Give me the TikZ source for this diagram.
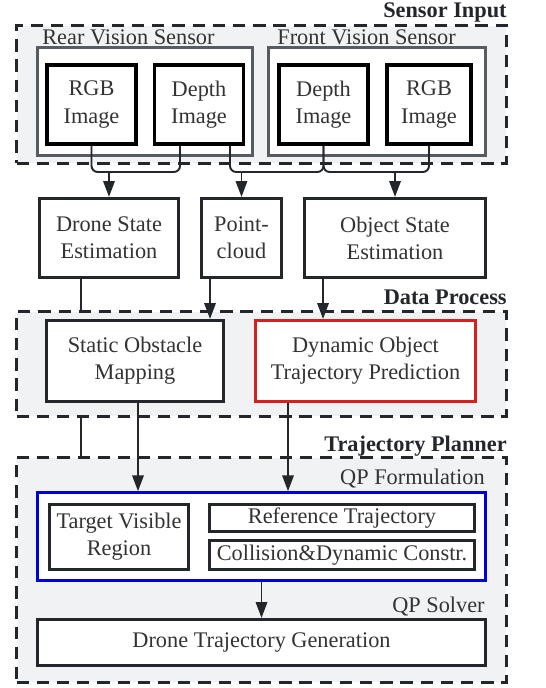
\documentclass[tikz,border=0pt]{standalone}
\usepackage{fontspec}
\setmainfont{Liberation Serif}
\usetikzlibrary{arrows.meta}

\definecolor{linedark}{HTML}{23262A}
\definecolor{sensgray}{HTML}{575C62}
\definecolor{groupfill}{HTML}{F1F2F4}
\definecolor{textdark}{HTML}{333333}
\definecolor{dopred}{HTML}{D81E1E}
\definecolor{qpblue}{HTML}{0000DD}

\tikzset{
  group/.style={draw=linedark, fill=groupfill, line width=1.7pt, dash pattern=on 7pt off 4.5pt},
  grouplabel/.style={anchor=base east, inner sep=0, font=\fontsize{12.7}{15.5}\selectfont\bfseries, text=linedark},
  sublabel/.style={anchor=base west, inner sep=0},
  sensbox/.style={draw=sensgray, fill=white, line width=1.7pt, minimum height=2.16cm},
  imgbox/.style={draw=black, fill=white, line width=2.2pt, minimum height=1.58cm, align=center, inner sep=0},
  procbox/.style={draw=linedark, fill=white, line width=1.8pt, align=center, inner sep=0},
  link/.style={draw=linedark, line width=1.1pt, rounded corners=3.5pt},
  arrow/.style={link, -{Triangle[width=6.5pt,length=9pt]}}
}

\begin{document}
\begin{tikzpicture}[x=0.02cm, y=-0.02cm, font=\fontsize{12.7}{15.5}\selectfont, text=textdark]
  \useasboundingbox (0,0) rectangle (545,688);

  % sensor input
  \node[group, minimum width=9.8cm, minimum height=2.76cm] (sensor) at (261.5,94.5) {};
  \node[grouplabel] (sensorlbl) at (507,17.5) {Sensor Input};
  \node[sensbox, minimum width=4.30cm] (rear) at (145,101.5) {};
  \node[sensbox, minimum width=4.34cm] (front) at (377,101.5) {};
  \node[sublabel] (rearlbl) at (42,45) {Rear Vision Sensor};
  \node[sublabel] (frontlbl) at (277,45) {Front Vision Sensor};

  \node[imgbox, minimum width=1.78cm] (rgbR) at (91.5,104.5) {RGB\\Image};
  \node[imgbox, minimum width=1.78cm] (depthR) at (199,104.5) {Depth\\Image};
  \node[imgbox, minimum width=1.78cm] (depthF) at (323.5,104.5) {Depth\\Image};
  \node[imgbox, minimum width=1.68cm] (rgbF) at (429,104.5) {RGB\\Image};

  % estimation row
  \node[procbox, minimum width=2.78cm, minimum height=1.58cm] (dse) at (109,238) {Drone State\\Estimation};
  \node[procbox, minimum width=1.60cm, minimum height=1.58cm] (pc) at (241.5,238) {Point-\\cloud};
  \node[procbox, minimum width=3.62cm, minimum height=1.58cm] (ose) at (395,238) {Object State\\Estimation};

  % drone state goes behind data process
  \coordinate (dseOut) at ([xshift=-0.56cm]dse.south);
  \coordinate (plannerIn) at (81,456);
  \draw[link] (dseOut) -- (plannerIn);

  % data process
  \node[group, minimum width=9.8cm, minimum height=2.10cm] (process) at (261.5,364) {};
  \node[grouplabel] (processlbl) at (507,305) {Data Process};
  \node[procbox, minimum width=3.54cm, minimum height=1.62cm] (som) at (135,361) {Static Obstacle\\Mapping};
  \node[procbox, draw=dopred, minimum width=4.40cm, minimum height=1.62cm] (dop) at (365.5,361) {Dynamic Object\\Trajectory Prediction};

  % trajectory planner
  \node[group, minimum width=9.8cm, minimum height=4.50cm] (planner) at (261.5,570) {};
  \node[grouplabel] (plannerlbl) at (507,451) {Trajectory Planner};
  \node[sublabel, anchor=base east] (qplbl) at (485,484) {QP Formulation};
  \node[procbox, draw=qpblue, line width=1.5pt, minimum width=8.96cm, minimum height=1.76cm] (qp) at (261.5,536.5) {};
  \node[procbox, minimum width=2.78cm, minimum height=1.30cm] (tvr) at (119,537) {Target Visible\\Region};
  \node[procbox, minimum width=5.30cm, minimum height=0.54cm] (ref) at (342,518) {Reference Trajectory};
  \node[procbox, minimum width=5.30cm, minimum height=0.58cm] (col) at (342,555) {Collision\&Dynamic Constr.};
  \node[sublabel, anchor=base east] (solverlbl) at (485,612) {QP Solver};
  \node[procbox, minimum width=8.96cm, minimum height=0.92cm] (dtg) at (261.5,642.5) {Drone Trajectory Generation};

  % sensor links
  \coordinate (jRear) at (109,172);
  \coordinate (jMid) at (241.5,172);
  \coordinate (jFront) at (395,172);
  \draw[link] (rgbR.south) |- (jRear);
  \draw[link] ([xshift=-0.38cm]depthR.south) |- (jRear);
  \draw[link] ([xshift=0.62cm]depthR.south) |- (jMid);
  \draw[link] (depthF.south) |- (jMid);
  \draw[link] (depthF.south) |- (jFront);
  \draw[link] (rgbF.south) |- (jFront);
  \draw[arrow] (jRear) -- (dse.north);
  \draw[arrow] (jMid) -- (pc.north);
  \draw[arrow] (jFront) -- (ose.north);

  % process links
  \coordinate (pcOut) at ([xshift=-0.63cm]pc.south);
  \coordinate (oseOut) at ([xshift=-1.44cm]ose.south);
  \draw[arrow] (pcOut) -- (pcOut |- som.north);
  \draw[arrow] (oseOut) -- (oseOut |- dop.north);

  % planner links
  \coordinate (somOut) at ([xshift=0.06cm]som.south);
  \coordinate (dopOut) at ([xshift=-1.55cm]dop.south);
  \draw[arrow] (somOut) -- (somOut |- qp.north);
  \draw[arrow] (dopOut) -- (dopOut |- qp.north);
  \draw[arrow] (qp.south) -- (dtg.north);
\end{tikzpicture}
\end{document}
